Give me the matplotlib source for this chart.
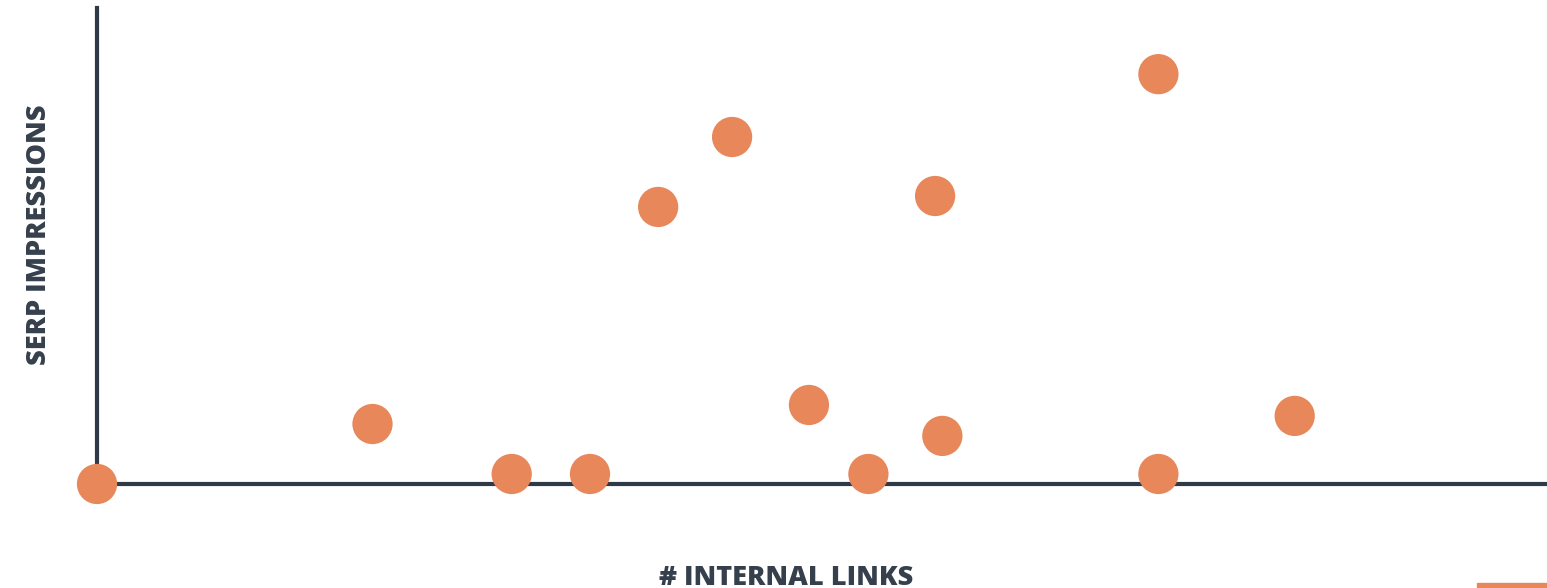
import matplotlib.pyplot as plt
from matplotlib.patches import Rectangle

# values (arbitrary units, axis runs 0..100)
internal_links = [0, 19.0, 28.6, 34.0, 38.7, 43.8, 49.1, 53.2, 57.8, 58.3, 73.2, 73.2, 82.6]
serp_impressions = [0, 12.6, 2.1, 2.1, 58.2, 72.9, 16.6, 2.1, 60.5, 10.1, 86.1, 2.1, 14.3]

axis_color = "#2f3a48"
text_color = "#36404d"
dot_color = "#e8875a"

fig = plt.figure(figsize=(15.47, 5.88), dpi=100)
ax = fig.add_axes([0.0627, 0.1769, 0.9373, 0.8095])

ax.scatter(internal_links, serp_impressions, s=840, color=dot_color,
           edgecolors="none", clip_on=False, zorder=3)

ax.set_xlim(0, 100)
ax.set_ylim(0, 100)
for side in ["top", "right"]:
    ax.spines[side].set_visible(False)
for side in ["left", "bottom"]:
    ax.spines[side].set_color(axis_color)
    ax.spines[side].set_linewidth(3)
ax.set_xticks([])
ax.set_yticks([])

fig.text(0.0250, 0.60, "SERP IMPRESSIONS", rotation=90, ha="center", va="center",
         fontsize=19.5, fontweight="heavy", color=text_color, family="Open Sans")
fig.text(0.508, 0.017, "# INTERNAL LINKS", ha="center", va="center",
         fontsize=19.5, fontweight="heavy", color=text_color, family="Open Sans")

# small orange strip in the bottom right corner
fig.patches.append(Rectangle((0.955, 0.0), 0.045, 0.008, transform=fig.transFigure,
                             color=dot_color, zorder=5))

fig.savefig("out.png", dpi=100)
